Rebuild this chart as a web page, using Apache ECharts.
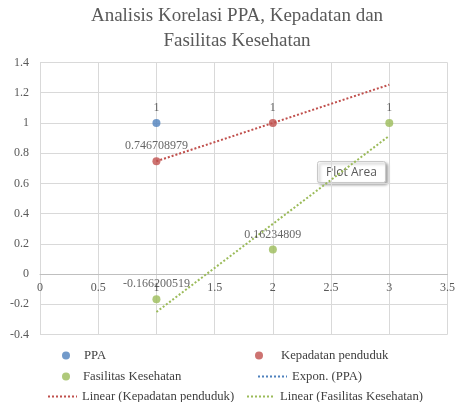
<!DOCTYPE html>
<html>
<head>
<meta charset="utf-8">
<script src="https://cdn.jsdelivr.net/npm/echarts@6/dist/echarts.min.js"></script>
<style>
  html, body { margin: 0; padding: 0; background: #fff; }
  #chart { width: 458px; height: 402px; }
</style>
</head>
<body>
<div id="chart"></div>
<script>
// correlation values, x = column index of the variable
var ppaData = [[1, 1]];
var kepadatanData = [[1, 0.746708979], [2, 1]];
var fasilitasData = [[1, -0.166200519], [2, 0.16234809], [3, 1]];
// trendline end points
var expPpa = [];
var linearKepadatan = [[1, 0.747], [3, 1.253]];
var linearFasilitas = [[1, -0.251], [3, 0.915]];
// tick labels
var xTicks = [0, 0.5, 1, 1.5, 2, 2.5, 3, 3.5];
var yTicks = [-0.4, -0.2, 0, 0.2, 0.4, 0.6, 0.8, 1, 1.2, 1.4];

var SERIF = '"Liberation Serif", "Times New Roman", serif';
var BLUE = '#4F81BD', RED = '#C0504D', GREEN = '#9BBB59';

var GRID_TOP = 62.5, GRID_BOTTOM = 67.5, CHART_H = 402;
var yMin = yTicks[0], yMax = yTicks[yTicks.length - 1];
// x axis sits on y = 0 like in Excel: shift it up from the bottom edge
var plotH = CHART_H - GRID_TOP - GRID_BOTTOM;
var xAxisOffset = -(0 - yMin) / (yMax - yMin) * plotH;

var chart = echarts.init(document.getElementById('chart'));

function dots(name, data, color) {
  return {
    name: name,
    type: 'scatter',
    data: data,
    symbolSize: 8,
    z: 5,
    itemStyle: { color: color },
    label: {
      show: true,
      position: 'top',
      distance: 5,
      formatter: function (p) { return String(p.value[1]); },
      fontFamily: SERIF,
      fontSize: 12,
      color: '#404040'
    }
  };
}

function trend(name, data, color) {
  return {
    name: name,
    type: 'line',
    data: data,
    symbol: 'none',
    z: 3,
    itemStyle: { color: color },
    lineStyle: { color: color, width: 2, type: [2, 2] }
  };
}

// one legend per entry so each can sit where Excel put it
function dotLegend(name, left, top, gap) {
  return {
    data: [{ name: name, icon: 'circle' }],
    left: left, top: top, padding: 0,
    itemWidth: 8, itemHeight: 8,
    selectedMode: false,
    textStyle: { fontFamily: SERIF, fontSize: 12.7, color: '#404040', padding: [0, 0, 0, gap] }
  };
}
function lineLegend(name, left, top, w) {
  return {
    data: [name],
    left: left, top: top, padding: 0,
    itemWidth: w, itemHeight: 8,
    selectedMode: false,
    itemStyle: { opacity: 0 },
    textStyle: { fontFamily: SERIF, fontSize: 12.7, color: '#404040' }
  };
}

var option = {
  animation: false,
  title: {
    text: 'Analisis Korelasi PPA, Kepadatan dan\nFasilitas Kesehatan',
    left: 237,
    top: 4,
    padding: 0,
    textAlign: 'center',
    textStyle: {
      fontFamily: SERIF,
      fontSize: 19,
      fontWeight: 'normal',
      color: '#595959',
      lineHeight: 25
    }
  },
  legend: [
    dotLegend('PPA', 62, 349, 9),
    dotLegend('Kepadatan penduduk', 255, 349, 13),
    dotLegend('Fasilitas Kesehatan', 62, 370, 8),
    lineLegend('Expon. (PPA)', 257, 370, 29),
    lineLegend('Linear (Kepadatan penduduk)', 47, 390, 29),
    lineLegend('Linear (Fasilitas Kesehatan)', 246, 390, 28)
  ],
  grid: { left: 40, right: 9, top: GRID_TOP, bottom: GRID_BOTTOM },
  xAxis: {
    type: 'value',
    position: 'bottom',
    offset: xAxisOffset,
    min: xTicks[0],
    max: xTicks[xTicks.length - 1],
    interval: xTicks[1] - xTicks[0],
    axisLine: { onZero: false, lineStyle: { color: '#bfbfbf' } },
    axisTick: { show: false },
    axisLabel: { fontFamily: SERIF, fontSize: 12, color: '#595959', margin: 8 },
    splitLine: { lineStyle: { color: '#d9d9d9' } }
  },
  yAxis: {
    type: 'value',
    min: yMin,
    max: yMax,
    interval: 0.2,
    axisLine: { show: true, onZero: false, lineStyle: { color: '#d9d9d9' } },
    axisTick: { show: false },
    axisLabel: { fontFamily: SERIF, fontSize: 12, color: '#595959', margin: 11 },
    splitLine: { lineStyle: { color: '#d9d9d9' } }
  },
  series: [
    dots('PPA', ppaData, BLUE),
    dots('Kepadatan penduduk', kepadatanData, RED),
    dots('Fasilitas Kesehatan', fasilitasData, GREEN),
    trend('Expon. (PPA)', expPpa, BLUE),
    trend('Linear (Kepadatan penduduk)', linearKepadatan, RED),
    trend('Linear (Fasilitas Kesehatan)', linearFasilitas, GREEN)
  ],
  graphic: [{
    type: 'group',
    left: 317,
    top: 161,
    z: 100,
    children: [
      {
        type: 'rect',
        shape: { x: 0, y: 0, width: 68, height: 21, r: 2 },
        style: {
          fill: '#fff', stroke: '#c8c8c8', lineWidth: 1,
          shadowBlur: 3, shadowOffsetX: 2, shadowOffsetY: 2, shadowColor: 'rgba(0,0,0,0.35)'
        }
      },
      {
        type: 'text',
        x: 34,
        y: 11,
        style: {
          text: 'Plot Area',
          font: '12px "Open Sans", sans-serif',
          fill: '#595959',
          align: 'center',
          verticalAlign: 'middle'
        }
      }
    ]
  }]
};

chart.setOption(option);
</script>
</body>
</html>
